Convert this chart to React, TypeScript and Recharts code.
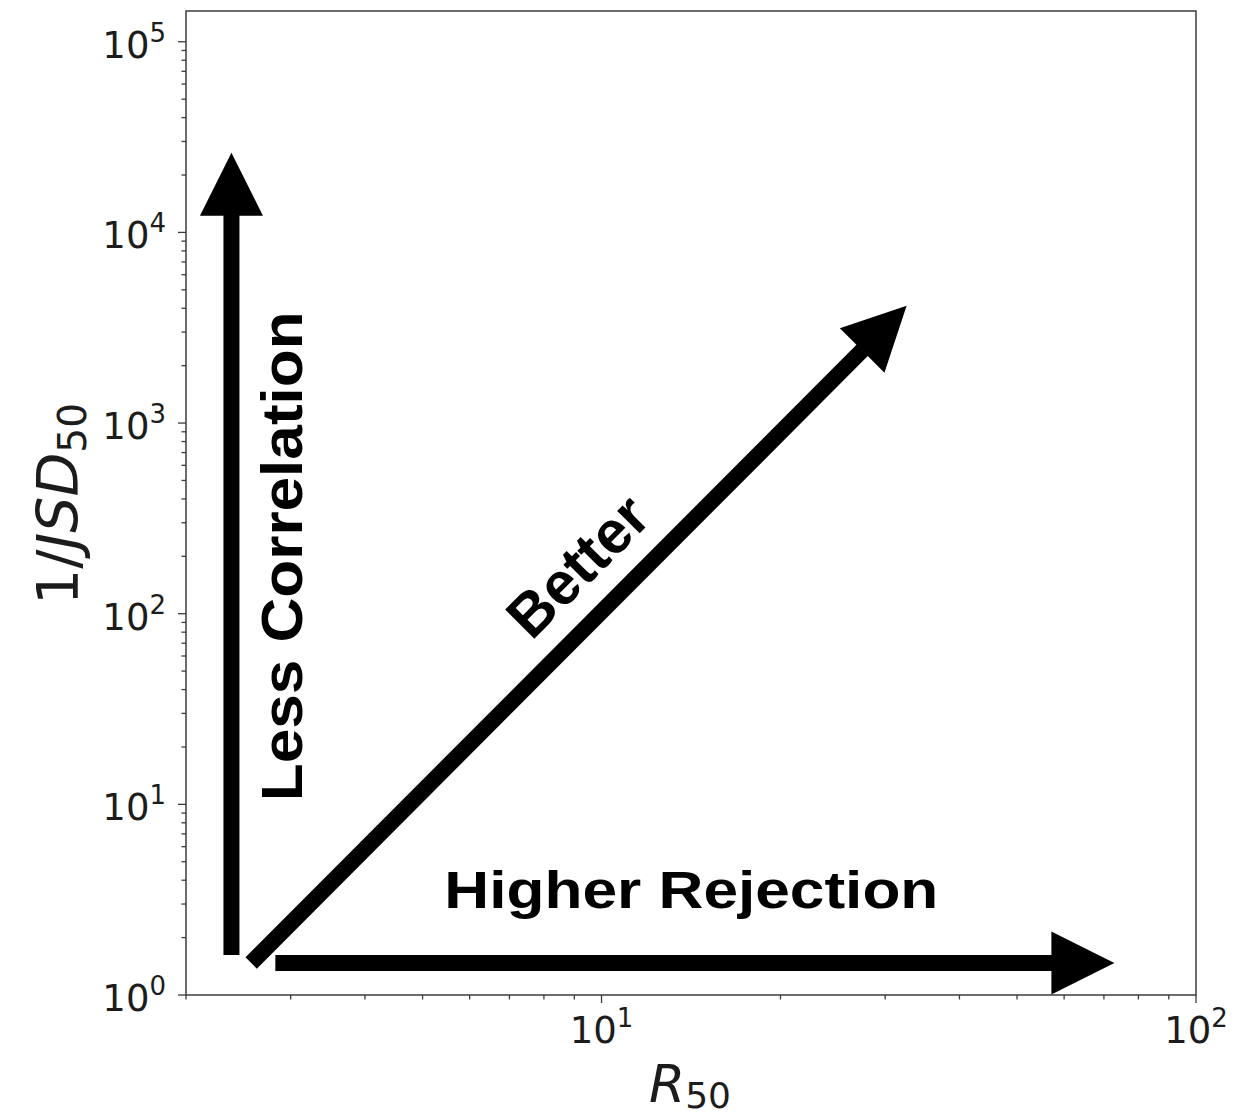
import React from 'react';
import { ComposedChart, Scatter, XAxis, YAxis, ReferenceLine, ReferenceDot, ReferenceArea } from 'recharts';

// axis ranges (log scale on both)
const xDomain = [2, 100];
const yDomain = [1, 145000];

const xMajorTicks = [10, 100];
const xMinorTicks = [2, 3, 4, 5, 6, 7, 8, 9, 20, 30, 40, 50, 60, 70, 80, 90];
const yMajorTicks = [1, 10, 100, 1000, 10000, 100000];
const yMinorTicks = [
  2, 3, 4, 5, 6, 7, 8, 9,
  20, 30, 40, 50, 60, 70, 80, 90,
  200, 300, 400, 500, 600, 700, 800, 900,
  2000, 3000, 4000, 5000, 6000, 7000, 8000, 9000,
  20000, 30000, 40000, 50000, 60000, 70000, 80000, 90000,
];

// arrows, tail -> head, in data units
const arrowKeys = ['correlation', 'rejection', 'better'];
const arrowFromX = [2.385, 2.827, 2.574];
const arrowFromY = [1.62, 1.472, 1.472];
const arrowToX = [2.385, 72.9, 32.6];
const arrowToY = [26200, 1.472, 4120];

// text notes, anchored at their centre in data units
const noteText = ['Less Correlation', 'Higher Rejection', 'Better'];
const noteX = [2.893, 14.16, 9.1];
const noteY = [200, 3.555, 179];

const NOTE_STYLE: Record<string, { angle: number; size: number; length: number }> = {
  'Less Correlation': { angle: -90, size: 58, length: 490 },
  'Higher Rejection': { angle: 0, size: 51, length: 494 },
  Better: { angle: -45, size: 60, length: 172 },
};

const SPINE = '#3c3c3c';
const TEXT = '#1c1c1c';
const SHAFT = 16;
const HEAD_W = 63;
const HEAD_L = 63;

const ArrowShape = (props: any) => {
  const { x1, y1, x2, y2 } = props;
  const dx = x2 - x1;
  const dy = y2 - y1;
  const len = Math.hypot(dx, dy);
  if (!len) return null;
  const ux = dx / len;
  const uy = dy / len;
  const nx = -uy;
  const ny = ux;
  const bx = x2 - ux * HEAD_L;
  const by = y2 - uy * HEAD_L;
  const pts = [
    [x1 + (nx * SHAFT) / 2, y1 + (ny * SHAFT) / 2],
    [bx + (nx * SHAFT) / 2, by + (ny * SHAFT) / 2],
    [bx + (nx * HEAD_W) / 2, by + (ny * HEAD_W) / 2],
    [x2, y2],
    [bx - (nx * HEAD_W) / 2, by - (ny * HEAD_W) / 2],
    [bx - (nx * SHAFT) / 2, by - (ny * SHAFT) / 2],
    [x1 - (nx * SHAFT) / 2, y1 - (ny * SHAFT) / 2],
  ];
  return <polygon points={pts.map((p) => p.join(',')).join(' ')} fill="#000" />;
};

const makeNote = (label: string) => (props: any) => {
  const { cx, cy } = props;
  const s = NOTE_STYLE[label];
  return (
    <g transform={`translate(${cx},${cy}) rotate(${s.angle})`}>
      <text
        x={0}
        y={s.size * 0.358}
        textAnchor="middle"
        fontFamily="'Liberation Sans', Arial, Helvetica, sans-serif"
        fontWeight="bold"
        fontSize={s.size}
        textLength={s.length}
        lengthAdjust="spacingAndGlyphs"
        fill="#000"
      >
        {label}
      </text>
    </g>
  );
};

const XTick = (props: any) => {
  const { x, y, payload } = props;
  const v = payload.value;
  const major = xMajorTicks.includes(v);
  return (
    <g>
      <line x1={x} y1={y} x2={x} y2={y + (major ? 8 : 4.5)} stroke={SPINE} strokeWidth={1.3} />
      {major && (
        <text x={x} y={y + 48} textAnchor="middle" fontFamily="'DejaVu Sans', sans-serif" fontSize={37} fill={TEXT}>
          10
          <tspan dy={-16} fontSize={26}>
            {Math.round(Math.log10(v))}
          </tspan>
        </text>
      )}
    </g>
  );
};

const YTick = (props: any) => {
  const { x, y, payload } = props;
  const v = payload.value;
  const major = yMajorTicks.includes(v);
  return (
    <g>
      <line x1={x - (major ? 8 : 4.5)} y1={y} x2={x} y2={y} stroke={SPINE} strokeWidth={1.3} />
      {major && (
        <text x={x - 20} y={y + 16} textAnchor="end" fontFamily="'DejaVu Sans', sans-serif" fontSize={37} fill={TEXT}>
          10
          <tspan dy={-16} fontSize={26}>
            {Math.round(Math.log10(v))}
          </tspan>
        </text>
      )}
    </g>
  );
};

export default function App() {
  const xTicks = [...xMinorTicks, ...xMajorTicks].sort((a, b) => a - b);
  const yTicks = [...yMinorTicks, ...yMajorTicks].sort((a, b) => a - b);
  // arrow tails, only used so both axes have data to scale against
  const anchors = arrowKeys.map((k, i) => ({ key: k, x: arrowFromX[i], y: arrowFromY[i] }));

  return (
    <div style={{ position: 'absolute', left: 0, top: 0, width: 1237, height: 1119, background: '#fff' }}>
      <ComposedChart width={1237} height={1119} data={anchors} margin={{ top: 11, right: 41, bottom: 0, left: 0 }}>
        <XAxis
          dataKey="x"
          type="number"
          scale="log"
          domain={xDomain}
          allowDataOverflow
          ticks={xTicks}
          interval={0}
          height={124}
          axisLine={false}
          tickLine={false}
          tickSize={0}
          tickMargin={0}
          tick={(p: any) => <XTick {...p} />}
        />
        <YAxis
          dataKey="y"
          type="number"
          scale="log"
          domain={yDomain}
          allowDataOverflow
          ticks={yTicks}
          interval={0}
          width={186}
          axisLine={false}
          tickLine={false}
          tickSize={0}
          tickMargin={0}
          tick={(p: any) => <YTick {...p} />}
        />
        <Scatter dataKey="y" fill="none" shape={() => null} isAnimationActive={false} />
        <ReferenceArea
          x1={xDomain[0]}
          x2={xDomain[1]}
          y1={yDomain[0]}
          y2={yDomain[1]}
          fill="none"
          fillOpacity={0}
          stroke={SPINE}
          strokeWidth={1.5}
          ifOverflow="visible"
        />
        {arrowKeys.map((k, i) => (
          <ReferenceLine
            key={k}
            segment={[
              { x: arrowFromX[i], y: arrowFromY[i] },
              { x: arrowToX[i], y: arrowToY[i] },
            ]}
            ifOverflow="visible"
            shape={ArrowShape}
          />
        ))}
        {noteText.map((t, i) => (
          <ReferenceDot key={t} x={noteX[i]} y={noteY[i]} r={1} ifOverflow="visible" shape={makeNote(t)} />
        ))}
      </ComposedChart>
      <svg width={1237} height={1119} style={{ position: 'absolute', left: 0, top: 0, pointerEvents: 'none' }}>
        <text x={690} y={1102} textAnchor="middle" fontFamily="'DejaVu Sans', sans-serif" fontSize={52} fill={TEXT}>
          <tspan fontStyle="italic">R</tspan>
          <tspan fontSize={36} dy={6}>
            50
          </tspan>
        </text>
        <g transform="translate(78,504) rotate(-90)">
          <text x={0} y={0} textAnchor="middle" fontFamily="'DejaVu Sans', sans-serif" fontSize={57} fill={TEXT}>
            1/
            <tspan fontStyle="italic">JSD</tspan>
            <tspan fontSize={39} dy={8}>
              50
            </tspan>
          </text>
        </g>
      </svg>
    </div>
  );
}
